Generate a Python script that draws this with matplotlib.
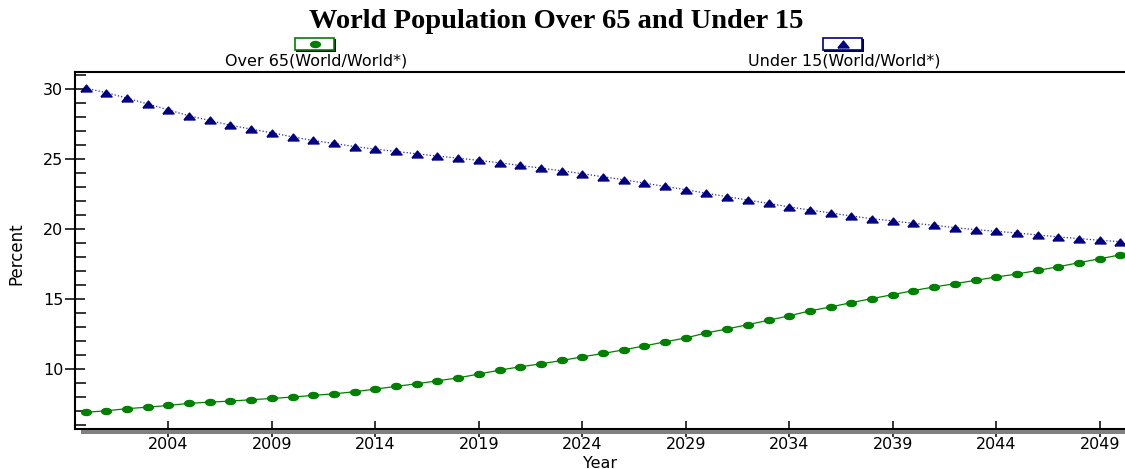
import matplotlib
matplotlib.use("Agg")
import matplotlib.pyplot as plt
from matplotlib.patches import Rectangle
from matplotlib.lines import Line2D
from matplotlib.path import Path
import numpy as np

years = list(range(2000, 2051))

over_65 = [6.94, 7.05, 7.20, 7.31, 7.43, 7.58, 7.67, 7.74, 7.84, 7.93,
           8.03, 8.15, 8.26, 8.41, 8.60, 8.79, 8.98, 9.19, 9.40, 9.67,
           9.95, 10.19, 10.40, 10.64, 10.90, 11.14, 11.40, 11.68, 11.97, 12.25,
           12.61, 12.89, 13.20, 13.51, 13.83, 14.18, 14.46, 14.77, 15.06, 15.34,
           15.63, 15.89, 16.12, 16.36, 16.60, 16.81, 17.07, 17.33, 17.62, 17.90,
           18.18]

under_15 = [30.07, 29.76, 29.36, 28.95, 28.53, 28.10, 27.77, 27.43, 27.15, 26.89,
            26.60, 26.34, 26.13, 25.91, 25.72, 25.56, 25.39, 25.23, 25.08, 24.92,
            24.75, 24.56, 24.37, 24.18, 23.97, 23.75, 23.54, 23.30, 23.06, 22.83,
            22.57, 22.33, 22.09, 21.85, 21.60, 21.38, 21.17, 20.95, 20.76, 20.60,
            20.43, 20.29, 20.12, 19.98, 19.86, 19.74, 19.60, 19.46, 19.34, 19.22,
            19.12]

x_ticks = [2004, 2009, 2014, 2019, 2024, 2029, 2034, 2039, 2044, 2049]
y_ticks = [10, 15, 20, 25, 30]
labels = ["Over 65(World/World*)", "Under 15(World/World*)"]
title = "World Population Over 65 and Under 15"

W, H = 1125, 469
GREEN = "#008000"
NAVY = "#000080"

# flattened marker shapes, like the original
tri = [(-1, -0.62), (1, -0.62), (0, 0.62), (-1, -0.62)]
circ = Path.unit_circle()
ell = Path(circ.vertices * np.array([1.0, 0.62]), circ.codes)

plt.rcParams['font.family'] = ['DejaVu Sans']
fig = plt.figure(figsize=(W / 100, H / 100), dpi=100)

def px(x, y):
    return (x / W, 1 - y / H)

ax = fig.add_axes([75 / W, (H - 429) / H, 1050 / W, (429 - 71.7) / H])

ax.plot(years, under_15, ls=":", lw=0.9, color="#2a2ab0", zorder=2)
ax.plot(years, under_15, ls="none", marker=tri, ms=8, color=NAVY, mec=NAVY, zorder=3)
ax.plot(years, over_65, ls="-", lw=0.9, color=GREEN, zorder=2)
ax.plot(years, over_65, ls="none", marker=ell, ms=7, color=GREEN, mec=GREEN, zorder=3)

ax.set_xlim(1999.49, 2050.22)
ax.set_ylim(5.75, 31.25)
ax.set_xticks(x_ticks)
ax.set_yticks(y_ticks)
ax.set_yticks(range(6, 32), minor=True)
ax.tick_params(axis="y", which="major", direction="inout", length=15, width=1.1,
               labelsize=11.5, pad=1)
ax.tick_params(axis="y", which="minor", direction="in", length=8, width=1.1)
ax.tick_params(axis="x", which="major", direction="inout", length=12, width=1.1,
               labelsize=11.5, pad=0)
for s in ["left", "top", "bottom"]:
    ax.spines[s].set_linewidth(1.5)
ax.spines["right"].set_visible(False)

ax.set_xlabel("Year", fontsize=11.5)
ax.xaxis.set_label_coords(0.5, -0.075)
ax.set_ylabel("Percent", fontsize=12)
ax.yaxis.set_label_coords(-0.047, 0.49)

# gray shadow under the x axis
fig.add_artist(Rectangle(px(81, 433.5), (W - 81) / W, 4 / H, transform=fig.transFigure,
                         color="#808080", lw=0, zorder=1))

fig.text(556 / W, 1 - 21 / H, title, ha="center", va="center",
         family="Liberation Serif", fontweight="bold", fontsize=20.5)

# legend boxes with the marker above each label
for cx, lab, col, mk, ms in [(315, labels[0], GREEN, ell, 7), (843, labels[1], NAVY, tri, 8)]:
    fig.add_artist(Rectangle(px(cx - 19, 52), 40 / W, 13 / H, transform=fig.transFigure,
                             facecolor="black", lw=0))
    fig.add_artist(Rectangle(px(cx - 20, 50.5), 39 / W, 12.5 / H, transform=fig.transFigure,
                             facecolor="white", edgecolor=col, lw=1.2))
    x0, y0 = px(cx, 44.5)
    fig.add_artist(Line2D([x0], [y0], transform=fig.transFigure, marker=mk, ms=ms,
                          color=col, mec=col, ls="none"))
    fig.text((cx + 1) / W, 1 - 61 / H, lab, ha="center", va="center", fontsize=11.5)

fig.savefig("out.png", dpi=100)
